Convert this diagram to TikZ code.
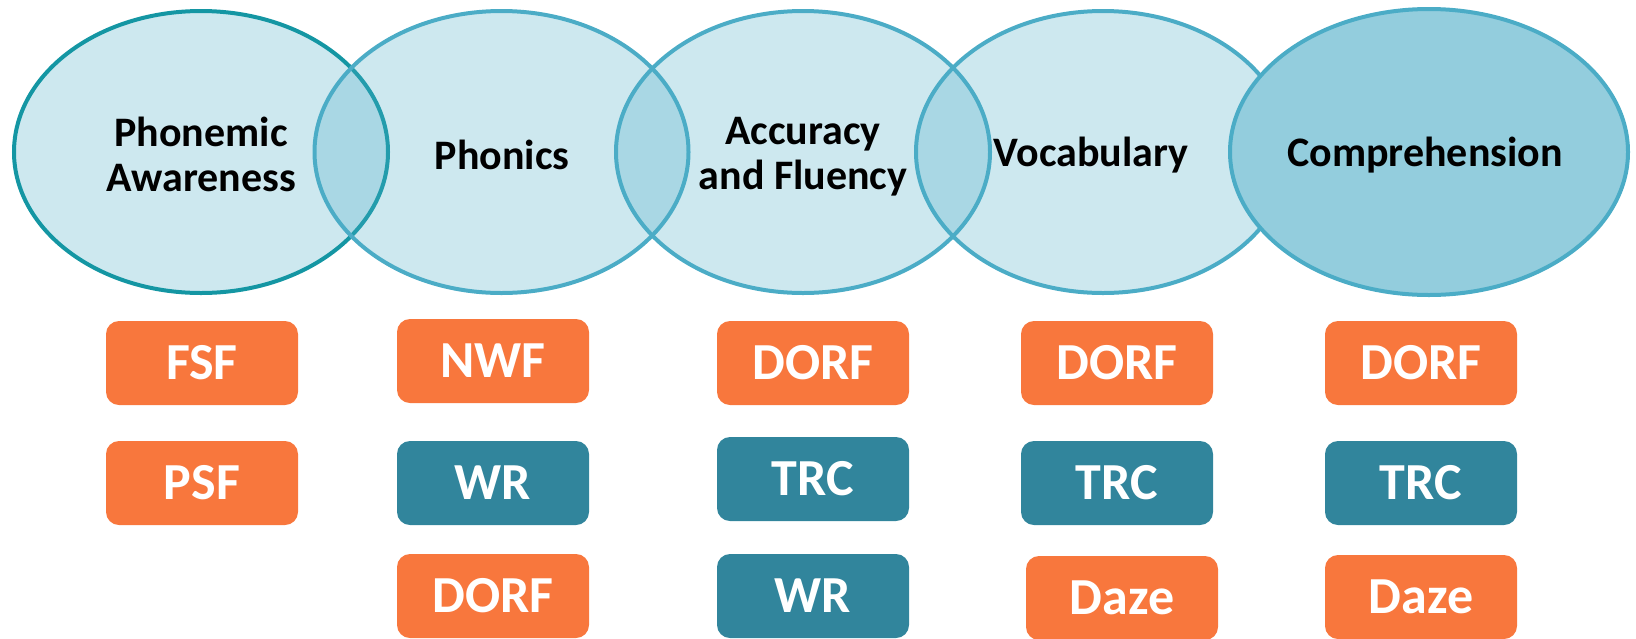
\documentclass[tikz,border=0pt]{standalone}
\usepackage{fontspec}
\setmainfont{Carlito}
\usetikzlibrary{shapes.geometric}
\definecolor{ringblue}{HTML}{4BACC6}
\definecolor{ringteal}{HTML}{1496A3}
\definecolor{compfill}{HTML}{93CDDD}
\definecolor{measorange}{HTML}{F8773D}
\definecolor{measteal}{HTML}{31859C}
\tikzset{
  area/.style={ellipse, draw=ringblue, line width=4pt, fill=ringblue,
    fill opacity=0.28, draw opacity=1, minimum width=374pt,
    minimum height=282pt, inner sep=0pt},
  areatext/.style={font=\fontsize{42}{45}\selectfont\bfseries,
    align=center, text=black, inner sep=0pt},
  measure/.style={rounded corners=13pt, minimum width=192pt,
    minimum height=84pt, inner sep=0pt,
    font=\fontsize{52}{52}\selectfont\bfseries, text=white},
  orangebox/.style={measure, fill=measorange},
  tealbox/.style={measure, fill=measteal},
}
\begin{document}
\begin{tikzpicture}[x=1pt,y=-1pt]
\useasboundingbox (0,0) rectangle (1636,638);

% overlapping skill areas
\node[area, draw=ringteal] (pa) at (201,152) {};
\node[area] (ph) at (501.5,152) {};
\node[area] (af) at (803,152) {};
\node[area] (vo) at (1103,152) {};
\node[area, fill=compfill, fill opacity=1, minimum width=398pt,
      minimum height=286pt] (co) at (1429,152) {};

\node[areatext] (tpa) at (201,154) {Phonemic\\Awareness};
\node[areatext] (tph) at (502,155) {Phonics};
\node[areatext] (taf) at (803,157) {Accuracy\\and Fluency};
\node[areatext] (tvo) at (1091,155) {Vocabulary};
\node[areatext] (tco) at (1425,155) {Comprehension};

% measures under each area
\node[orangebox] (fsf)  at (202,363) {FSF};
\node[orangebox] (psf)  at (202,483) {PSF};

\node[orangebox] (nwf)  at (493,361) {NWF};
\node[tealbox]   (wra)  at (493,483) {WR};
\node[orangebox] (dora) at (493,596) {DORF};

\node[orangebox] (dorb) at (813,363) {DORF};
\node[tealbox]   (trcb) at (813,479) {TRC};
\node[tealbox]   (wrb)  at (813,596) {WR};

\node[orangebox] (dorc) at (1117,363) {DORF};
\node[tealbox]   (trcc) at (1117,483) {TRC};
\node[orangebox] (dazc) at (1122,598) {Daze};

\node[orangebox] (dord) at (1421,363) {DORF};
\node[tealbox]   (trcd) at (1421,483) {TRC};
\node[orangebox] (dazd) at (1421,597) {Daze};
\end{tikzpicture}
\end{document}
